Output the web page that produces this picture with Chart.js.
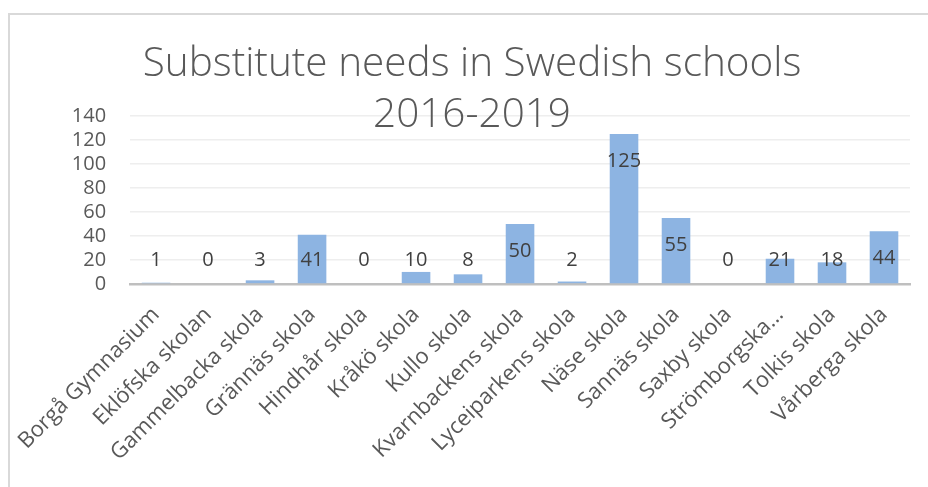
<!DOCTYPE html>
<html lang="en">
<head>
    <meta charset="UTF-8">
    <script src="https://cdn.jsdelivr.net/npm/chart.js"></script>
    <title>Substitute needs</title>
    <style>
        body { margin: 0; background: #fff; }
        #wrap { position: relative; width: 928px; height: 487px; overflow: hidden; }
        #frame {
            position: absolute; left: 8px; top: 13px; width: 1000px; height: 600px;
            border-top: 2px solid #d9d9d9; border-left: 2px solid #d9d9d9;
        }
        #subChart { position: absolute; left: 0; top: 0; }
    </style>
</head>
<body>
<div id="wrap">
    <div id="frame"></div>
    <canvas id="subChart" width="928" height="487"></canvas>
</div>

<script>
    // schools and number of substitute needs, 2016-2019
    const schools = ['Borgå Gymnasium', 'Eklöfska skolan', 'Gammelbacka skola', 'Grännäs skola',
        'Hindhår skola', 'Kråkö skola', 'Kullo skola', 'Kvarnbackens skola', 'Lyceiparkens skola',
        'Näse skola', 'Sannäs skola', 'Saxby skola', 'Strömborgska...', 'Tolkis skola', 'Vårberga skola'];
    const needs = [1, 0, 3, 41, 0, 10, 8, 50, 2, 125, 55, 0, 21, 18, 44];
    const yTicks = [0, 20, 40, 60, 80, 100, 120, 140];

    const textColor = '#595959';
    const font = "'Open Sans', Calibri, sans-serif";

    // value labels, inside the bar end (or just above the axis for short bars)
    const valueLabels = {
        id: 'valueLabels',
        afterDatasetsDraw(chart) {
            const ctx = chart.ctx;
            const y0 = chart.scales.y.getPixelForValue(0);
            ctx.save();
            ctx.font = '20px ' + font;
            ctx.fillStyle = '#404040';
            ctx.textAlign = 'center';
            ctx.textBaseline = 'middle';
            chart.getDatasetMeta(0).data.forEach((bar, i) => {
                const y = Math.min(bar.y + 27, y0 - 24);
                ctx.fillText(String(needs[i]), bar.x, y);
            });
            ctx.restore();
        }
    };

    new Chart(document.getElementById('subChart'), {
        type: 'bar',
        data: {
            labels: schools,
            datasets: [{
                data: needs,
                backgroundColor: '#8db4e2',
                borderWidth: 0,
                barPercentage: 0.55,
                categoryPercentage: 1
            }]
        },
        options: {
            responsive: false,
            animation: false,
            layout: { padding: { left: 34, right: 18, top: 0, bottom: 3 } },
            plugins: {
                legend: { display: false },
                tooltip: { enabled: false },
                title: {
                    display: true,
                    text: ['Substitute needs in Swedish schools', '2016-2019'],
                    color: textColor,
                    font: { family: font, size: 40.5, weight: '300', lineHeight: 1.26 },
                    padding: { top: 39, bottom: -25 }
                }
            },
            scales: {
                x: {
                    grid: { display: false, drawTicks: false },
                    border: { color: '#bfbfbf', width: 2.5 },
                    ticks: {
                        color: textColor,
                        font: { family: font, size: 22 },
                        minRotation: 45,
                        maxRotation: 45,
                        autoSkip: false,
                        padding: 18
                    }
                },
                y: {
                    min: 0,
                    max: 140,
                    afterBuildTicks(axis) { axis.ticks = yTicks.map(v => ({ value: v })); },
                    afterFit(axis) { axis.width = 92; },
                    grid: { color: '#eeeeee', lineWidth: 1.5, drawTicks: false },
                    border: { display: false },
                    ticks: {
                        color: textColor,
                        font: { family: font, size: 20 },
                        autoSkip: false,
                        padding: 24
                    }
                }
            }
        },
        plugins: [valueLabels]
    });
</script>
</body>
</html>
